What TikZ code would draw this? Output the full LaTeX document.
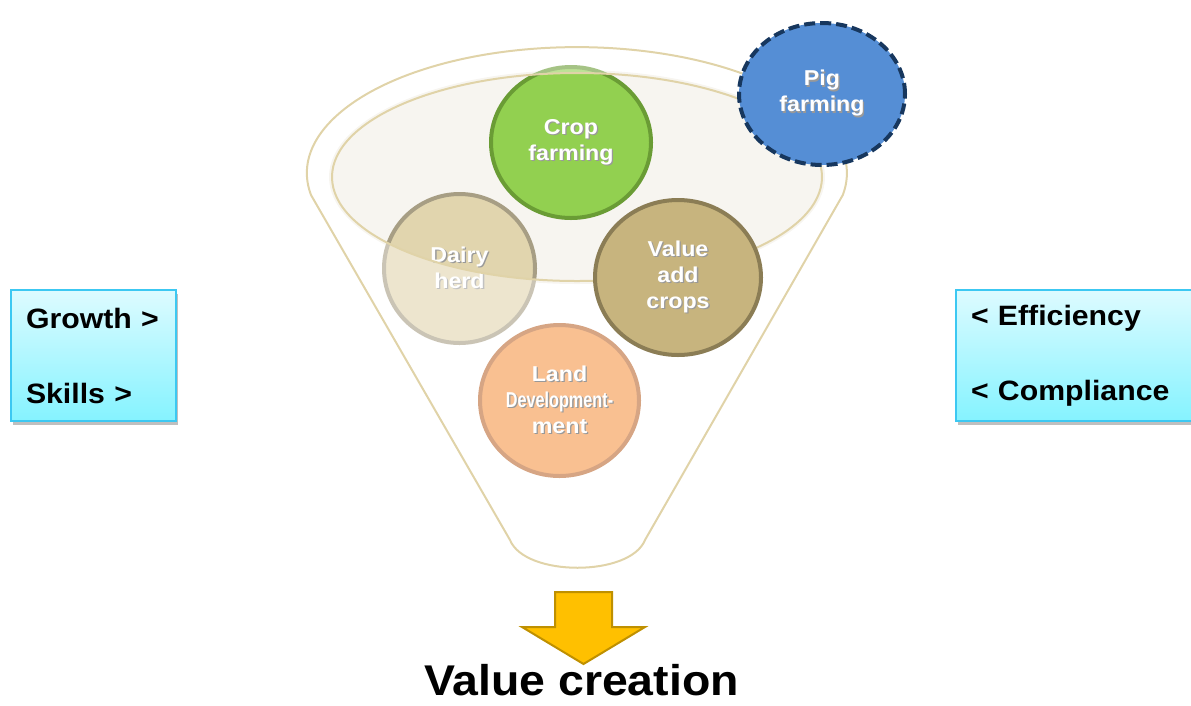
\documentclass[tikz,border=0pt]{standalone}
\usepackage{fontspec}
\setmainfont[FakeStretch=1.08]{Liberation Sans}
\usetikzlibrary{shapes.geometric,shadows}

\definecolor{funnelline}{HTML}{E0D3A8}
\definecolor{innerfill}{HTML}{F7F5F0}
\definecolor{cropfill}{HTML}{92D050}
\definecolor{cropline}{HTML}{6A9C35}
\definecolor{dairyfill}{HTML}{E1D5AE}
\definecolor{dairyline}{HTML}{A79E84}
\definecolor{valuefill}{HTML}{C7B47E}
\definecolor{valueline}{HTML}{8B7D55}
\definecolor{landfill}{HTML}{F9C091}
\definecolor{landline}{HTML}{D6A584}
\definecolor{pigfill}{HTML}{558ED5}
\definecolor{pigline}{HTML}{17375E}
\definecolor{boxtop}{HTML}{DDFBFF}
\definecolor{boxbottom}{HTML}{85F3FF}
\definecolor{boxline}{HTML}{3CC8F2}
\definecolor{arrowfill}{HTML}{FFC000}
\definecolor{arrowline}{HTML}{BF9000}

% white label with a soft drop shadow
\newcommand{\shadowed}[1]{\leavevmode\rlap{\kern1.3pt\raisebox{-1.3pt}{\textcolor{black!40}{#1}}}#1}

\tikzset{
  stage/.style={ellipse, draw, line width=4pt, inner sep=0pt, align=center, text=white,
    font=\bfseries\fontsize{21.5}{26}\selectfont},
  sidebox/.style={rectangle, draw=boxline, line width=1.5pt, top color=boxtop, bottom color=boxbottom,
    inner xsep=15pt, inner ysep=0pt, minimum height=131pt, align=left,
    font=\bfseries\fontsize{28}{75}\selectfont,
    drop shadow={shadow xshift=2pt, shadow yshift=-4pt, opacity=0.5}}
}

\begin{document}
\begin{tikzpicture}[x=1pt,y=-1pt]
	\clip (0,0) rectangle (1191,705);

	% funnel
	\draw[funnelline, line width=2pt] (311,195) arc[start angle=190, end angle=-10, x radius=270pt, y radius=126pt]
		-- (645,540) .. controls (630,577) and (525,577) .. (510,540) -- cycle;
	\fill[innerfill] (577,177) ellipse [x radius=248pt, y radius=107pt];

	\node[stage, fill=dairyfill, draw=dairyline, minimum width=151pt, minimum height=149pt] (dairy) at (459.5,268.5) {\shadowed{Dairy}\\\shadowed{herd}};
	\node[stage, fill=cropfill, draw=cropline, minimum width=160pt, minimum height=151pt] (crop) at (571,142.5) {\shadowed{Crop}\\\shadowed{farming}};

	% fade outside the bowl
	\begin{scope}[even odd rule]
		\clip (0,0) rectangle (1191,705) (577,177) ellipse [x radius=245pt, y radius=104pt];
		\fill[white, fill opacity=0.4] (dairy.center) ellipse [x radius=78pt, y radius=77pt]
			(crop.center) ellipse [x radius=82pt, y radius=78pt];
	\end{scope}
	\draw[funnelline, line width=2pt] (577,177) ellipse [x radius=245pt, y radius=104pt];

	\node[stage, fill=valuefill, draw=valueline, minimum width=166pt, minimum height=155pt] (valueadd) at (678,277.5) {\shadowed{Value}\\\shadowed{add}\\\shadowed{crops}};
	\node[stage, fill=landfill, draw=landline, minimum width=159pt, minimum height=151pt] (land) at (559.5,400.5) {\shadowed{Land}\\\shadowed{\scalebox{0.7}[1]{Development-}}\\\shadowed{ment}};
	\node[stage, fill=pigfill, draw=pigline, dash pattern=on 11pt off 5pt, minimum width=166pt, minimum height=142pt] (pig) at (822,94) {\shadowed{Pig}\\\shadowed{farming}};

	\node[sidebox, minimum width=165pt, text width=135pt] (growth) at (93.5,355.5) {Growth >\\Skills >};
	\node[sidebox, minimum width=239pt, text width=209pt] (efficiency) at (1075.5,355.5) {< Efficiency\\< Compliance};

	\draw[arrowline, fill=arrowfill, line width=2pt] (555,592) -- (612,592) -- (612,627) -- (645,627)
		-- (583.5,664) -- (522,627) -- (555,627) -- cycle;
	\node[anchor=base, font=\bfseries\fontsize{43}{48}\selectfont] (valuetext) at (581.5,695) {Value creation};

\end{tikzpicture}
\end{document}
